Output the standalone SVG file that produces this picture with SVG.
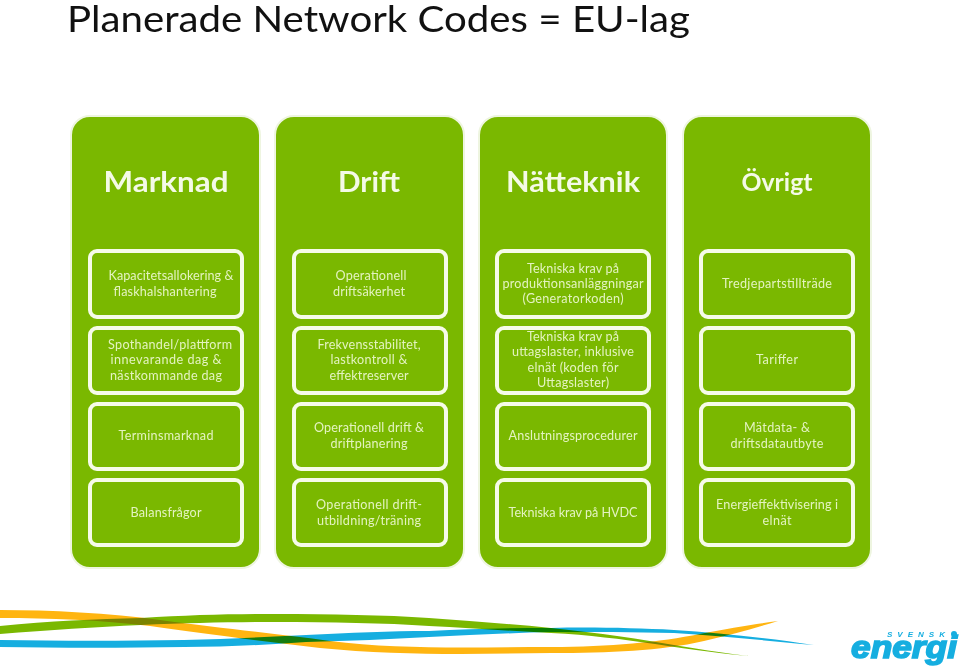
<svg xmlns="http://www.w3.org/2000/svg" width="960" height="667" viewBox="0 0 960 667">
<style>
text{font-family:Lato,"Open Sans","Liberation Sans",sans-serif;text-anchor:middle}
.panel{fill:#7ab800;stroke:#eef5e0;stroke-width:2}
.box{fill:#7ab800;stroke:#f6fbe9;stroke-width:4}
.h{fill:#f4fae6;font-weight:700;font-size:29px}
.t{fill:#e4f3c0;font-size:12.6px}
.title{fill:#111;font-size:36px;text-anchor:start}
.rib{mix-blend-mode:multiply}
.logo{font-family:"Liberation Sans",sans-serif;font-weight:700;font-style:italic;fill:#16aee0}
</style>
<rect width="960" height="667" fill="#fff"/>
<text class="title" x="67" y="32" textLength="623" lengthAdjust="spacingAndGlyphs">Planerade Network Codes = EU-lag</text>

<g id="col-marknad">
<rect class="panel" x="71" y="116" width="189" height="452" rx="19"/>
<text class="h" x="166" y="192" textLength="125" lengthAdjust="spacingAndGlyphs">Marknad</text>
<g id="m1"><rect class="box" x="90" y="251" width="152" height="66" rx="7"/><text class="t" x="171" y="280" textLength="125">Kapacitetsallokering &amp;</text><text class="t" x="165" y="296" textLength="103">flaskhalshantering</text></g>
<g id="m2"><rect class="box" x="90" y="328" width="152" height="65" rx="7"/><text class="t" x="170" y="349" textLength="124">Spothandel/plattform</text><text class="t" x="166" y="364" textLength="111">innevarande dag  &amp;</text><text class="t" x="166" y="380" textLength="112">nästkommande dag</text></g>
<g id="m3"><rect class="box" x="90" y="404" width="152" height="65" rx="7"/><text class="t" x="166" y="440" textLength="95">Terminsmarknad</text></g>
<g id="m4"><rect class="box" x="90" y="480" width="152" height="65" rx="7"/><text class="t" x="166" y="517" textLength="71">Balansfrågor</text></g>
</g>

<g id="col-drift">
<rect class="panel" x="275" y="116" width="189" height="452" rx="19"/>
<text class="h" x="369" y="192" textLength="62" lengthAdjust="spacingAndGlyphs">Drift</text>
<g id="d1"><rect class="box" x="294" y="251" width="152" height="66" rx="7"/><text class="t" x="371" y="280" textLength="71">Operationell</text><text class="t" x="369" y="296" textLength="72">driftsäkerhet</text></g>
<g id="d2"><rect class="box" x="294" y="328" width="152" height="65" rx="7"/><text class="t" x="369" y="349" textLength="103">Frekvensstabilitet,</text><text class="t" x="369" y="364" textLength="77">lastkontroll &amp;</text><text class="t" x="369" y="380" textLength="79">effektreserver</text></g>
<g id="d3"><rect class="box" x="294" y="404" width="152" height="65" rx="7"/><text class="t" x="369" y="432" textLength="110">Operationell drift &amp;</text><text class="t" x="369" y="448" textLength="77">driftplanering</text></g>
<g id="d4"><rect class="box" x="294" y="480" width="152" height="65" rx="7"/><text class="t" x="369" y="509" textLength="106">Operationell drift-</text><text class="t" x="369" y="525" textLength="104">utbildning/träning</text></g>
</g>

<g id="col-natteknik">
<rect class="panel" x="479" y="116" width="188" height="452" rx="19"/>
<text class="h" x="573" y="192" textLength="134" lengthAdjust="spacingAndGlyphs">Nätteknik</text>
<g id="n1"><rect class="box" x="497" y="251" width="152" height="66" rx="7"/><text class="t" x="573" y="273" textLength="92">Tekniska krav på</text><text class="t" x="573" y="288" textLength="141">produktionsanläggningar</text><text class="t" x="573" y="303" textLength="101">(Generatorkoden)</text></g>
<g id="n2"><rect class="box" x="497" y="328" width="152" height="65" rx="7"/><text class="t" x="573" y="341" textLength="92">Tekniska krav på</text><text class="t" x="573" y="356" textLength="122">uttagslaster, inklusive</text><text class="t" x="573" y="372" textLength="91">elnät (koden för</text><text class="t" x="573" y="387" textLength="72">Uttagslaster)</text></g>
<g id="n3"><rect class="box" x="497" y="404" width="152" height="65" rx="7"/><text class="t" x="573" y="440" textLength="129">Anslutningsprocedurer</text></g>
<g id="n4"><rect class="box" x="497" y="480" width="152" height="65" rx="7"/><text class="t" x="573" y="517" textLength="129">Tekniska krav på HVDC</text></g>
</g>

<g id="col-ovrigt">
<rect class="panel" x="683" y="116" width="188" height="452" rx="19"/>
<text class="h" x="777" y="191" style="font-size:25px" textLength="71" lengthAdjust="spacingAndGlyphs">Övrigt</text>
<g id="o1"><rect class="box" x="701" y="251" width="152" height="66" rx="7"/><text class="t" x="777" y="288" textLength="110">Tredjepartstillträde</text></g>
<g id="o2"><rect class="box" x="701" y="328" width="152" height="65" rx="7"/><text class="t" x="777" y="364" textLength="42">Tariffer</text></g>
<g id="o3"><rect class="box" x="701" y="404" width="152" height="65" rx="7"/><text class="t" x="777" y="432" textLength="66">Mätdata- &amp;</text><text class="t" x="777" y="448" textLength="93">driftsdatautbyte</text></g>
<g id="o4"><rect class="box" x="701" y="480" width="152" height="65" rx="7"/><text class="t" x="777" y="509" textLength="122">Energieffektivisering i</text><text class="t" x="777" y="525" textLength="29">elnät</text></g>
</g>

<g id="ribbons">
<path class="rib" fill="#ffb511" d="M0 610C50 610 110 613 160 620C220 628 270 633 330 641C400 650 480 647 551 647C610 647 660 642 700 634C730 628 755 624 778 621C755 628 730 635 704 641C660 651 610 653 551 653C480 654 400 656 320 648C260 641 200 633 150 626C100 620 50 618 0 618Z"/>
<path class="rib" fill="#7ab800" d="M0 626C50 621 95 619 141 618C190 615 230 614 276 614C330 614 385 615 429 618C470 621 510 624 551 628C600 633 640 639 680 646C705 650 730 654 750 656C725 654 695 650 655 644C620 639 590 635 551 633C510 631 470 628 429 626C385 623 330 622 276 622C230 622 190 623 141 625C95 627 50 630 0 634Z"/>
<path class="rib" fill="#16aee0" d="M0 640C60 641 125 641 184 640C225 639 265 637 306 635C350 633 390 631 429 631C470 629 510 628 551 628C590 627 635 628 674 630C720 633 770 638 814 645C770 641 720 636 674 633C635 632 590 632 551 632C510 633 470 635 429 637C390 639 350 641 306 642C265 645 225 647 184 647C125 648 60 648 0 647Z"/>
</g>

<g id="logo">
<text class="logo" x="904" y="658" style="font-size:31px" textLength="106" lengthAdjust="spacingAndGlyphs" stroke="#16aee0" stroke-width="1.6">energi</text>
<text class="logo" x="916" y="637" style="font-size:8px" textLength="58" lengthAdjust="spacing">SVENSK</text>
<circle cx="954" cy="634" r="3" fill="#16aee0"/>
</g>
</svg>
